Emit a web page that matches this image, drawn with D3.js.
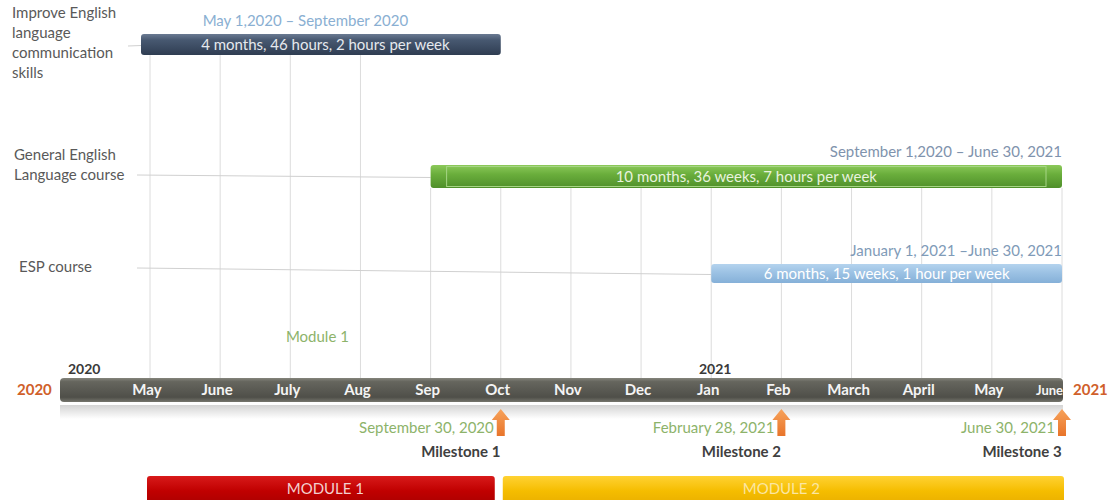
<!DOCTYPE html>
<html>
<head>
<meta charset="utf-8">
<script src="https://cdn.jsdelivr.net/npm/d3@7"></script>
<style>
  body { margin: 0; background: #fff; }
  text { font-family: Lato, "Open Sans", sans-serif; }
</style>
</head>
<body>
<script>
//timeline data
var months = ["2020-05","2020-06","2020-07","2020-08","2020-09","2020-10","2020-11",
              "2020-12","2021-01","2021-02","2021-03","2021-04","2021-05","2021-06"];
var monthLabels = ["May","June","July","Aug","Sep","Oct","Nov","Dec","Jan","Feb","March","April","May","June"];

var courseNames = [["Improve English","language","communication","skills"],
                   ["General English","Language course"],
                   ["ESP course"]];
var courseStart = ["2020-05","2020-09","2021-01"];
var courseEnd = ["2020-10","2021-06","2021-06"];
var courseDates = ["May 1,2020 \u2013 September 2020",
                   "September 1,2020 \u2013 June 30, 2021",
                   "January 1, 2021 \u2013June 30, 2021"];
var courseInfo = ["4 months, 46 hours, 2 hours per week",
                  "10 months, 36 weeks, 7 hours per week",
                  "6 months, 15 weeks, 1 hour per week"];

var milestoneMonths = ["2020-10","2021-02","2021-06"];
var milestoneDates = ["September 30, 2020","February 28, 2021","June 30, 2021"];
var milestoneNames = ["Milestone 1","Milestone 2","Milestone 3"];

var moduleNames = ["MODULE 1","MODULE 2"];
var moduleStart = ["2020-05","2020-10"];
var moduleEnd = ["2020-10","2021-06"];

var yearLabels = ["2020","2021"];
var yearMonths = ["2020-05","2021-01"];

(function(){
	var width = 1111, height = 500;

	var svg = d3.select("body").append("svg")
		.attr("width", width)
		.attr("height", height);

	var defs = svg.append("defs");

	//vertical gradient helper
	function gradient(id, stops){
		var g = defs.append("linearGradient")
			.attr("id", id)
			.attr("x1", 0).attr("y1", 0).attr("x2", 0).attr("y2", 1);
		stops.forEach(function(s){
			g.append("stop").attr("offset", s[0]).attr("stop-color", s[1]);
		});
	}
	gradient("gSlate", [["0%","#6a7a92"],["30%","#475870"],["100%","#2f3d52"]]);
	gradient("gGreen", [["0%","#8cc95a"],["40%","#6aae3c"],["100%","#4f8f2a"]]);
	gradient("gBlue", [["0%","#b4d3ee"],["45%","#9cc2e4"],["100%","#85b0d8"]]);
	gradient("gAxis", [["0%","#85857c"],["15%","#66665e"],["80%","#4f4f49"],["100%","#75756d"]]);
	gradient("gShadow", [["0%","#d4d4d4"],["100%","#ffffff"]]);
	gradient("gRed", [["0%","#d81a1a"],["50%","#c00000"],["100%","#a80000"]]);
	gradient("gYellow", [["0%","#ffd233"],["50%","#f5bd00"],["100%","#e8ad00"]]);
	gradient("gArrow", [["0%","#f7a25a"],["100%","#e8742a"]]);

	var x = d3.scalePoint()
		.domain(months)
		.range([150, 1062]);

	//row layout
	var rowY = [34, 165, 264],
		rowH = [21, 23, 19],
		rowFill = ["url(#gSlate)","url(#gGreen)","url(#gBlue)"],
		rowText = ["#e6e9ee","#e8f3de","#ffffff"],
		rowDateColor = ["#8aafd2","#7f93ad","#7f9bb8"];

	var axisY = 378, axisH = 24;

	//grid lines
	svg.append("g").selectAll("line")
		.data(months)
		.enter().append("line")
		.attr("x1", function(d){ return x(d); })
		.attr("x2", function(d){ return x(d); })
		.attr("y1", function(d){ return d < courseStart[1] ? rowY[0] + rowH[0] : rowY[1] + rowH[1]; })
		.attr("y2", axisY)
		.attr("stroke", "#dcdcdc")
		.attr("stroke-width", 1);

	//course labels
	var labelX = [12, 14, 19],
		labelY = [18, 160, 272];
	courseNames.forEach(function(lines, i){
		var t = svg.append("text")
			.attr("x", labelX[i])
			.attr("y", labelY[i])
			.attr("fill", "#595959")
			.style("font-size", "15px");
		lines.forEach(function(l, j){
			t.append("tspan").attr("x", labelX[i]).attr("dy", j ? 20 : 0).text(l);
		});
	});

	//connector lines
	var connStart = [[128, 46], [137, 175], [137, 268]];
	svg.append("g").selectAll("line")
		.data(courseStart)
		.enter().append("line")
		.attr("x1", function(d, i){ return connStart[i][0]; })
		.attr("y1", function(d, i){ return connStart[i][1]; })
		.attr("x2", function(d){ return x(d) - (d === months[0] ? 9 : 0); })
		.attr("y2", function(d, i){ return rowY[i] + rowH[i] / 2 + 1; })
		.attr("stroke", "#d0d0d0")
		.attr("stroke-width", 1);

	//course bars
	var bars = svg.append("g").selectAll("g")
		.data(courseStart)
		.enter().append("g");

	bars.append("rect")
		.attr("x", function(d){ return x(d) - (d === months[0] ? 9 : 0); })
		.attr("y", function(d, i){ return rowY[i]; })
		.attr("width", function(d, i){ return x(courseEnd[i]) - x(d) + (d === months[0] ? 9 : 0); })
		.attr("height", function(d, i){ return rowH[i]; })
		.attr("rx", 3)
		.attr("fill", function(d, i){ return rowFill[i]; });

	//inner highlight on green bar
	svg.append("rect")
		.attr("x", x(courseStart[1]) + 16)
		.attr("y", rowY[1] + 1.5)
		.attr("width", x(courseEnd[1]) - x(courseStart[1]) - 32)
		.attr("height", rowH[1] - 3)
		.attr("fill", "none")
		.attr("stroke", "#a6d585")
		.attr("stroke-width", 1);

	bars.append("text")
		.attr("x", function(d, i){ return (x(d) + x(courseEnd[i])) / 2; })
		.attr("y", function(d, i){ return rowY[i] + rowH[i] / 2 + 5; })
		.attr("text-anchor", "middle")
		.attr("fill", function(d, i){ return rowText[i]; })
		.style("font-size", "15px")
		.text(function(d, i){ return courseInfo[i]; });

	//date ranges
	bars.append("text")
		.attr("x", function(d, i){ return i === 0 ? (x(d) + x(courseEnd[i])) / 2 - 20 : x(courseEnd[i]); })
		.attr("y", function(d, i){ return rowY[i] - 8; })
		.attr("text-anchor", function(d, i){ return i === 0 ? "middle" : "end"; })
		.attr("fill", function(d, i){ return rowDateColor[i]; })
		.style("font-size", "15px")
		.text(function(d, i){ return courseDates[i]; });

	//Module 1 note
	svg.append("text")
		.attr("x", (x("2020-07") + x("2020-08")) / 2 - 8)
		.attr("y", 342)
		.attr("text-anchor", "middle")
		.attr("fill", "#8db36a")
		.style("font-size", "15px")
		.text("Module 1");

	//axis reflection and bar
	svg.append("rect")
		.attr("x", 60).attr("y", axisY + axisH + 3)
		.attr("width", x(months[months.length - 1]) + 1 - 60)
		.attr("height", 14)
		.attr("fill", "url(#gShadow)");

	svg.append("rect")
		.attr("x", 60).attr("y", axisY)
		.attr("width", x(months[months.length - 1]) + 1 - 60)
		.attr("height", axisH)
		.attr("rx", 4)
		.attr("fill", "url(#gAxis)");

	svg.append("g").selectAll("text")
		.data(months)
		.enter().append("text")
		.attr("x", function(d, i){ return i === months.length - 1 ? x(d) + 1 : x(d) - 3; })
		.attr("y", axisY + 17)
		.attr("text-anchor", function(d, i){ return i === months.length - 1 ? "end" : "middle"; })
		.attr("fill", "#f4f4f4")
		.style("font-size", function(d, i){ return i === months.length - 1 ? "13px" : "15px"; })
		.style("font-weight", "bold")
		.text(function(d, i){ return monthLabels[i]; });

	//year labels
	svg.append("g").selectAll("text")
		.data(yearMonths)
		.enter().append("text")
		.attr("x", function(d, i){ return i === 0 ? 68 : x(d) + 4; })
		.attr("y", axisY - 4)
		.attr("text-anchor", function(d, i){ return i === 0 ? "start" : "middle"; })
		.attr("fill", "#3a3a3a")
		.style("font-size", "14px")
		.style("font-weight", "bold")
		.text(function(d, i){ return yearLabels[i]; });

	svg.append("g").selectAll("text")
		.data(yearLabels)
		.enter().append("text")
		.attr("x", function(d, i){ return i === 0 ? 17 : x(months[months.length - 1]) + 11; })
		.attr("y", axisY + 17)
		.attr("fill", "#d0602a")
		.style("font-size", "15px")
		.style("font-weight", "bold")
		.text(function(d){ return d; });

	//milestones
	var ms = svg.append("g").selectAll("g")
		.data(milestoneMonths)
		.enter().append("g")
		.attr("transform", function(d){ return "translate(" + x(d) + ",0)"; });

	ms.append("path")
		.attr("d", "M0,409 L9,420 L4,420 L4,436 L-4,436 L-4,420 L-9,420 Z")
		.attr("fill", "url(#gArrow)");

	ms.append("text")
		.attr("x", -7)
		.attr("y", 433)
		.attr("text-anchor", "end")
		.attr("fill", "#8db36a")
		.style("font-size", "15px")
		.text(function(d, i){ return milestoneDates[i]; });

	ms.append("text")
		.attr("x", -40)
		.attr("y", 457)
		.attr("text-anchor", "middle")
		.attr("fill", "#404040")
		.style("font-size", "15px")
		.style("font-weight", "bold")
		.text(function(d, i){ return milestoneNames[i]; });

	//module bars
	var modFill = ["url(#gRed)","url(#gYellow)"],
		modText = ["#f3d0d0","#fbe6a2"],
		modPad = [[-3, 6], [2, -2]];
	var mods = svg.append("g").selectAll("g")
		.data(moduleStart)
		.enter().append("g");

	mods.append("rect")
		.attr("x", function(d, i){ return x(d) + modPad[i][0]; })
		.attr("y", 476)
		.attr("width", function(d, i){ return x(moduleEnd[i]) - x(d) - modPad[i][0] - modPad[i][1]; })
		.attr("height", 30)
		.attr("rx", 3)
		.attr("fill", function(d, i){ return modFill[i]; });

	mods.append("text")
		.attr("x", function(d, i){ return (x(d) + x(moduleEnd[i])) / 2; })
		.attr("y", 494)
		.attr("text-anchor", "middle")
		.attr("fill", function(d, i){ return modText[i]; })
		.style("font-size", "15px")
		.text(function(d, i){ return moduleNames[i]; });
})();
</script>
</body>
</html>
